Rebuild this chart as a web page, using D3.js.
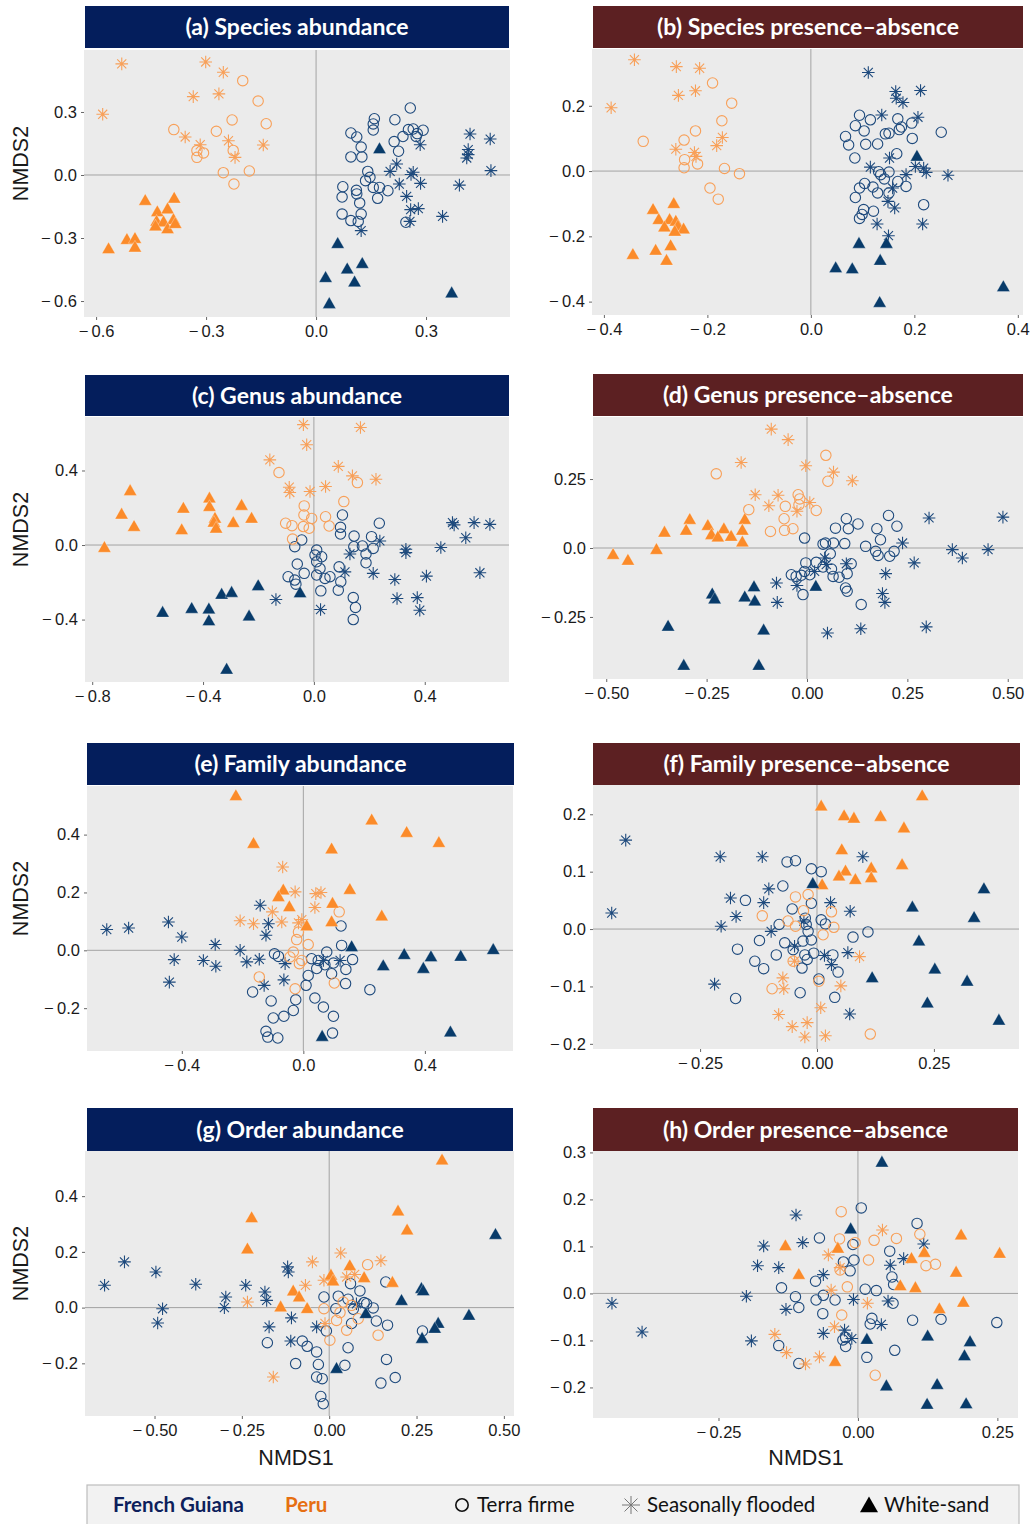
<!DOCTYPE html>
<html><head><meta charset="utf-8">
<script src="https://cdn.jsdelivr.net/npm/d3@7"></script>
<style>body{margin:0;background:#fff}</style>
</head><body>
<svg id="c" width="1030" height="1524"></svg>
<script>
// ---------------- DATA (NMDS1, NMDS2) ----------------
// Panel (a) Species abundance
const a_PE_SF=[[-0.530,0.529],[-0.301,0.538],[-0.253,0.489],[-0.335,0.373],[-0.265,0.386],[-0.582,0.289],[-0.357,0.181],[-0.316,0.144],[-0.239,0.163],[-0.221,0.084],[-0.144,0.143]];
const a_PE_TF=[[-0.200,0.449],[-0.158,0.352],[-0.229,0.262],[-0.136,0.244],[-0.388,0.216],[-0.272,0.208],[-0.226,0.117],[-0.325,0.116],[-0.307,0.105],[-0.325,0.084],[-0.253,0.011],[-0.182,0.019],[-0.224,-0.043]];
const a_PE_WS=[[-0.466,-0.122],[-0.387,-0.111],[-0.433,-0.176],[-0.405,-0.162],[-0.435,-0.221],[-0.416,-0.224],[-0.389,-0.213],[-0.438,-0.244],[-0.405,-0.257],[-0.384,-0.232],[-0.516,-0.308],[-0.494,-0.303],[-0.494,-0.344],[-0.566,-0.352]];
const a_FG_TF=[[0.257,0.319],[0.159,0.268],[0.215,0.263],[0.156,0.243],[0.156,0.214],[0.095,0.200],[0.111,0.181],[0.252,0.216],[0.265,0.219],[0.292,0.213],[0.213,0.159],[0.237,0.183],[0.273,0.183],[0.276,0.197],[0.225,0.113],[0.123,0.133],[0.095,0.086],[0.125,0.086],[0.141,0.017],[0.147,-0.011],[0.135,-0.027],[0.073,-0.056],[0.156,-0.059],[0.173,-0.059],[0.196,-0.075],[0.071,-0.105],[0.110,-0.073],[0.111,-0.090],[0.168,-0.111],[0.119,-0.133],[0.071,-0.186],[0.123,-0.186],[0.095,-0.217],[0.115,-0.221],[0.245,-0.225]];
const a_FG_SF=[[0.420,0.195],[0.475,0.171],[0.284,0.144],[0.415,0.121],[0.415,0.097],[0.411,0.081],[0.220,0.052],[0.202,0.017],[0.265,0.013],[0.259,0.002],[0.477,0.021],[0.227,-0.043],[0.285,-0.040],[0.391,-0.048],[0.247,-0.102],[0.258,-0.165],[0.279,-0.160],[0.345,-0.197],[0.256,-0.221],[0.123,-0.265]];
const a_FG_WS=[[0.173,0.124],[0.059,-0.327],[0.026,-0.489],[0.085,-0.448],[0.126,-0.422],[0.105,-0.510],[0.036,-0.613],[0.370,-0.562]];

// Panel (b) Species presence-absence
const b_PE_SF=[[-0.341,0.341],[-0.260,0.320],[-0.215,0.315],[-0.386,0.194],[-0.256,0.232],[-0.223,0.246],[-0.261,0.067],[-0.225,0.057],[-0.222,0.045],[-0.182,0.078],[-0.171,0.103]];
const b_PE_TF=[[-0.190,0.270],[-0.153,0.208],[-0.172,0.154],[-0.324,0.091],[-0.223,0.123],[-0.245,0.095],[-0.244,0.035],[-0.245,0.010],[-0.219,0.022],[-0.167,0.008],[-0.138,-0.008],[-0.195,-0.052],[-0.179,-0.086]];
const b_PE_WS=[[-0.305,-0.118],[-0.265,-0.100],[-0.294,-0.149],[-0.273,-0.149],[-0.261,-0.154],[-0.257,-0.169],[-0.283,-0.172],[-0.246,-0.178],[-0.263,-0.185],[-0.300,-0.243],[-0.271,-0.229],[-0.344,-0.256],[-0.279,-0.274]];
const b_FG_TF=[[0.094,0.171],[0.115,0.157],[0.086,0.139],[0.103,0.123],[0.067,0.106],[0.073,0.080],[0.106,0.082],[0.129,0.083],[0.144,0.114],[0.151,0.116],[0.168,0.160],[0.175,0.135],[0.171,0.127],[0.195,0.147],[0.196,0.100],[0.252,0.119],[0.166,0.053],[0.085,0.040],[0.131,-0.002],[0.135,-0.011],[0.151,-0.003],[0.142,-0.024],[0.168,-0.032],[0.184,-0.047],[0.104,-0.038],[0.094,-0.052],[0.120,-0.049],[0.129,-0.067],[0.151,-0.067],[0.086,-0.081],[0.102,-0.118],[0.121,-0.123],[0.099,-0.133],[0.094,-0.145],[0.218,-0.103]];
const b_FG_SF=[[0.111,0.302],[0.164,0.244],[0.212,0.247],[0.165,0.223],[0.178,0.210],[0.137,0.172],[0.207,0.165],[0.152,0.040],[0.115,0.012],[0.202,0.014],[0.218,0.009],[0.223,-0.004],[0.184,-0.011],[0.265,-0.013],[0.158,-0.052],[0.149,-0.093],[0.162,-0.113],[0.128,-0.162],[0.150,-0.198],[0.216,-0.162]];
const b_FG_WS=[[0.205,0.045],[0.093,-0.222],[0.146,-0.222],[0.048,-0.297],[0.080,-0.300],[0.134,-0.274],[0.133,-0.403],[0.372,-0.355]];

// Panel (c) Genus abundance
const c_PE_SF=[[-0.038,0.646],[0.168,0.631],[-0.026,0.538],[-0.159,0.457],[0.088,0.422],[0.139,0.371],[0.224,0.353],[-0.089,0.310],[-0.087,0.282],[-0.014,0.287],[0.042,0.314]];
const c_PE_TF=[[-0.126,0.389],[0.157,0.335],[0.108,0.233],[-0.035,0.210],[-0.036,0.161],[-0.008,0.143],[0.042,0.152],[0.055,0.102],[-0.102,0.117],[-0.079,0.104],[-0.038,0.099],[-0.017,0.090],[-0.077,0.032]];
const c_PE_WS=[[-0.663,0.291],[-0.694,0.165],[-0.649,0.099],[-0.471,0.197],[-0.377,0.251],[-0.377,0.206],[-0.357,0.143],[-0.361,0.122],[-0.353,0.090],[-0.291,0.120],[-0.261,0.212],[-0.225,0.143],[-0.477,0.081],[-0.756,-0.014]];
const c_FG_TF=[[0.103,0.161],[0.236,0.117],[0.096,0.095],[0.096,0.059],[0.145,0.048],[0.208,0.045],[0.175,-0.005],[0.144,-0.009],[0.214,-0.018],[0.188,-0.048],[0.188,-0.095],[-0.044,0.027],[-0.069,-0.009],[0.010,-0.027],[0.028,-0.063],[0.004,-0.054],[0.010,-0.090],[0.022,-0.126],[-0.060,-0.102],[-0.035,-0.152],[-0.093,-0.170],[-0.069,-0.188],[-0.065,-0.210],[0.010,-0.161],[0.040,-0.179],[0.058,-0.170],[0.091,-0.117],[0.097,-0.197],[0.088,-0.242],[0.025,-0.246],[0.142,-0.282],[0.150,-0.335],[0.142,-0.400]];
const c_FG_SF=[[0.500,0.120],[0.506,0.108],[0.578,0.120],[0.635,0.111],[0.548,0.039],[0.238,0.022],[0.332,-0.023],[0.332,-0.041],[0.458,-0.013],[0.130,-0.048],[0.112,-0.144],[0.214,-0.152],[0.292,-0.185],[0.406,-0.167],[0.599,-0.149],[-0.137,-0.292],[0.300,-0.287],[0.373,-0.282],[0.382,-0.350],[0.024,-0.346]];
const c_FG_WS=[[-0.201,-0.219],[-0.333,-0.265],[-0.297,-0.255],[-0.050,-0.257],[-0.546,-0.362],[-0.441,-0.341],[-0.379,-0.344],[-0.379,-0.407],[-0.234,-0.382],[-0.315,-0.667]];

// Panel (d) Genus presence-absence
const d_PE_SF=[[-0.089,0.431],[-0.047,0.393],[-0.164,0.310],[-0.003,0.298],[0.066,0.275],[0.113,0.244],[-0.129,0.193],[-0.072,0.191],[-0.095,0.153],[-0.025,0.133],[0.007,0.165]];
const d_PE_TF=[[0.047,0.336],[-0.226,0.269],[0.052,0.242],[-0.022,0.193],[-0.018,0.178],[-0.020,0.157],[-0.145,0.139],[-0.054,0.151],[0.023,0.136],[-0.057,0.106],[-0.035,0.070],[-0.056,0.064],[-0.091,0.060]];
const d_PE_WS=[[-0.292,0.103],[-0.155,0.103],[-0.247,0.081],[-0.207,0.069],[-0.189,0.042],[-0.161,0.064],[-0.301,0.064],[-0.355,0.057],[-0.238,0.048],[-0.222,0.039],[-0.161,0.021],[-0.375,-0.006],[-0.483,-0.024],[-0.446,-0.045]];
const d_FG_TF=[[0.098,0.106],[0.203,0.118],[0.127,0.087],[0.071,0.072],[0.103,0.070],[0.224,0.079],[0.174,0.070],[0.183,0.030],[-0.006,0.036],[0.040,0.014],[0.046,0.018],[0.066,0.018],[0.094,0.016],[0.146,0.006],[0.171,-0.012],[0.177,-0.027],[0.206,-0.030],[0.217,-0.012],[0.058,-0.021],[-0.003,-0.054],[0.023,-0.052],[0.040,-0.069],[-0.006,-0.085],[0.007,-0.097],[-0.039,-0.097],[-0.027,-0.103],[-0.014,-0.099],[0.061,-0.076],[0.065,-0.103],[0.080,-0.106],[0.100,-0.093],[0.110,-0.057],[0.096,-0.145],[0.100,-0.157],[-0.010,-0.169],[0.135,-0.205]];
const d_FG_SF=[[0.304,0.109],[0.488,0.112],[0.238,0.018],[0.362,-0.006],[0.387,-0.036],[0.451,-0.006],[0.267,-0.054],[0.196,-0.093],[0.188,-0.165],[0.194,-0.197],[-0.076,-0.127],[-0.074,-0.197],[-0.025,-0.136],[0.044,-0.036],[0.048,-0.060],[0.019,-0.085],[0.098,-0.057],[0.051,-0.308],[0.134,-0.293],[0.297,-0.286]];
const d_FG_WS=[[-0.236,-0.167],[-0.230,-0.185],[-0.132,-0.141],[-0.155,-0.178],[-0.130,-0.193],[0.022,-0.139],[-0.346,-0.284],[-0.108,-0.298],[-0.307,-0.426],[-0.120,-0.426]];

// Panel (e) Family abundance
const e_PE_WS=[[-0.222,0.534],[0.225,0.450],[0.340,0.407],[0.446,0.372],[-0.164,0.369],[0.093,0.350],[0.153,0.210],[-0.066,0.208],[-0.082,0.185],[-0.046,0.150],[0.096,0.162],[0.258,0.118],[0.011,0.084],[0.093,0.098]];
const e_PE_SF=[[-0.068,0.288],[-0.027,0.202],[0.041,0.196],[0.058,0.200],[0.038,0.148],[-0.102,0.133],[-0.208,0.102],[-0.164,0.092],[-0.071,0.098],[-0.016,0.095],[-0.005,0.106]];
const e_PE_TF=[[0.118,0.133],[-0.016,0.063],[-0.022,0.037],[0.016,0.020],[-0.033,-0.006],[-0.005,-0.035],[-0.044,-0.023],[-0.013,-0.046],[-0.145,-0.092],[0.102,-0.113],[-0.027,-0.133]];
const e_FG_SF=[[-0.647,0.072],[-0.575,0.077],[-0.444,0.098],[-0.400,0.046],[-0.290,0.020],[-0.425,-0.032],[-0.329,-0.035],[-0.288,-0.055],[-0.441,-0.110],[-0.208,0.000],[-0.186,-0.040],[-0.145,-0.031],[-0.142,0.156],[-0.115,0.092],[-0.123,0.052],[-0.060,-0.046],[-0.064,-0.102],[-0.129,-0.121],[0.066,-0.035],[0.121,-0.035]];
const e_FG_TF=[[0.124,0.084],[0.126,0.017],[0.077,-0.006],[0.162,-0.032],[-0.095,-0.012],[-0.082,-0.021],[0.027,-0.029],[0.049,-0.035],[0.071,-0.050],[0.099,-0.044],[0.093,-0.081],[0.140,-0.066],[0.139,-0.115],[0.044,-0.063],[0.016,-0.087],[0.009,-0.121],[-0.167,-0.144],[-0.106,-0.175],[-0.025,-0.171],[0.038,-0.165],[0.066,-0.196],[0.099,-0.228],[-0.099,-0.234],[-0.064,-0.228],[-0.033,-0.208],[-0.123,-0.280],[-0.117,-0.300],[-0.084,-0.303],[0.096,-0.286],[0.219,-0.136]];
const e_FG_WS=[[0.159,0.012],[0.263,-0.054],[0.332,-0.015],[0.420,-0.023],[0.395,-0.063],[0.518,-0.021],[0.625,0.002],[0.062,-0.298],[0.484,-0.283]];

// Panel (f) Family presence-absence
const f_PE_WS=[[0.225,0.232],[0.009,0.214],[0.058,0.197],[0.079,0.193],[0.136,0.196],[0.186,0.176],[0.053,0.138],[0.182,0.112],[0.061,0.101],[0.116,0.106],[0.047,0.092],[0.082,0.086],[0.116,0.089],[0.011,0.077]];
const f_FG_WS=[[-0.009,0.079],[0.357,0.070],[0.204,0.038],[0.336,0.020],[0.218,-0.021],[0.252,-0.070],[0.118,-0.085],[0.321,-0.091],[0.236,-0.129],[0.389,-0.159]];
const f_PE_TF=[[-0.046,0.056],[-0.019,0.060],[-0.117,0.023],[-0.029,0.032],[0.031,0.030],[-0.062,0.014],[-0.046,0.005],[0.013,-0.010],[0.036,0.003],[-0.051,-0.056],[0.004,-0.091],[-0.096,-0.104],[0.114,-0.183]];
const f_PE_SF=[[0.091,-0.048],[-0.048,-0.056],[-0.073,-0.085],[-0.071,-0.104],[0.051,-0.099],[-0.082,-0.149],[-0.053,-0.170],[-0.021,-0.163],[-0.026,-0.188],[0.018,-0.186],[0.008,-0.137]];
const f_FG_SF=[[-0.409,0.155],[-0.439,0.028],[-0.207,0.126],[-0.117,0.126],[0.098,0.126],[-0.185,0.054],[-0.114,0.046],[-0.103,0.070],[-0.173,0.022],[-0.205,0.005],[-0.098,-0.004],[0.029,0.046],[0.071,0.031],[-0.028,0.014],[-0.048,-0.030],[0.016,-0.046],[0.031,-0.062],[0.066,-0.041],[-0.219,-0.096],[0.070,-0.148]];
const f_FG_TF=[[-0.064,0.117],[-0.046,0.119],[-0.012,0.105],[0.009,0.100],[-0.073,0.075],[-0.153,0.050],[-0.053,0.035],[-0.012,0.045],[-0.025,0.019],[-0.081,0.008],[-0.023,0.008],[0.009,0.016],[0.018,0.009],[-0.019,-0.004],[-0.012,-0.019],[-0.030,-0.021],[-0.123,-0.020],[0.077,-0.014],[0.109,-0.005],[-0.170,-0.035],[-0.069,-0.024],[-0.087,-0.045],[-0.051,-0.036],[-0.026,-0.045],[-0.021,-0.053],[-0.007,-0.042],[0.034,-0.045],[0.045,-0.075],[-0.133,-0.056],[-0.114,-0.069],[-0.032,-0.068],[0.004,-0.087],[-0.036,-0.111],[0.038,-0.119],[-0.174,-0.121]];

// Panel (g) Order abundance
const g_PE_WS=[[0.323,0.529],[-0.222,0.322],[0.197,0.346],[0.223,0.278],[-0.234,0.210],[0.059,0.150],[0.005,0.116],[0.100,0.107],[0.181,0.090],[-0.103,0.059],[-0.086,0.038],[-0.139,0.002],[-0.063,-0.004],[0.011,0.095]];
const g_PE_SF=[[0.033,0.196],[-0.048,0.164],[0.148,0.168],[-0.068,0.080],[-0.015,0.098],[0.050,0.110],[0.073,0.119],[-0.234,0.020],[-0.012,-0.057],[-0.160,-0.249]];
const g_PE_TF=[[0.110,0.154],[0.040,0.020],[0.064,0.008],[-0.015,-0.004],[0.083,-0.040],[0.021,-0.046],[0.050,-0.081],[0.140,-0.099],[0.002,-0.117],[0.031,-0.018]];
const g_FG_SF=[[-0.586,0.164],[-0.643,0.080],[-0.496,0.128],[-0.382,0.084],[-0.477,-0.004],[-0.491,-0.055],[-0.296,0.038],[-0.300,0.000],[-0.239,0.080],[-0.184,0.056],[-0.179,0.026],[-0.119,0.146],[-0.117,0.128],[-0.172,-0.069],[-0.108,-0.037],[-0.110,-0.120],[-0.036,-0.069],[0.078,0.014]];
const g_FG_TF=[[0.061,0.086],[0.088,0.060],[-0.015,0.038],[0.026,0.041],[0.054,0.030],[0.100,0.018],[0.126,-0.001],[0.069,-0.006],[0.019,-0.004],[0.167,-0.063],[0.135,-0.048],[0.064,-0.057],[-0.008,-0.084],[-0.177,-0.126],[-0.077,-0.120],[-0.063,-0.139],[-0.036,-0.159],[-0.096,-0.201],[-0.031,-0.204],[-0.036,-0.249],[-0.020,-0.255],[-0.024,-0.319],[-0.017,-0.345],[0.045,-0.207],[0.054,-0.144],[0.164,-0.186],[0.148,-0.271],[0.189,-0.251],[0.162,0.092],[0.267,-0.084],[0.107,0.014]];
const g_FG_WS=[[0.476,0.262],[0.264,0.068],[0.269,0.060],[0.207,0.025],[0.105,-0.022],[0.400,-0.028],[0.312,-0.057],[0.302,-0.075],[0.266,-0.111],[0.021,-0.219]];

// Panel (h) Order presence-absence
const h_FG_WS=[[0.043,0.279],[-0.013,0.137],[0.016,-0.098],[0.125,-0.091],[0.201,-0.103],[0.191,-0.133],[0.051,-0.197],[0.142,-0.194],[0.124,-0.236],[0.194,-0.235]];
const h_PE_WS=[[-0.130,0.101],[-0.036,0.096],[-0.106,0.040],[0.185,0.124],[0.254,0.085],[0.096,0.074],[0.119,0.087],[0.176,0.045],[0.076,0.016],[0.103,0.012],[0.146,-0.033],[0.189,-0.019],[-0.041,-0.145]];
const h_PE_TF=[[-0.030,0.174],[-0.033,0.116],[-0.005,0.108],[0.029,0.113],[0.069,0.117],[0.111,0.126],[0.139,0.062],[0.122,0.059],[0.019,0.071],[-0.032,0.050],[-0.019,0.014],[-0.029,-0.046],[0.031,-0.174]];
const h_PE_SF=[[0.044,0.135],[-0.053,0.082],[-0.032,0.055],[-0.048,0.007],[0.017,-0.021],[-0.042,-0.071],[-0.149,-0.087],[-0.128,-0.126],[-0.094,-0.150],[-0.069,-0.135]];
const h_FG_TF=[[0.006,0.182],[0.106,0.149],[-0.069,0.118],[-0.009,0.104],[-0.007,0.071],[0.057,0.090],[-0.026,0.067],[-0.014,0.048],[0.061,0.035],[0.064,0.019],[-0.076,0.026],[-0.137,0.012],[-0.112,-0.007],[-0.106,-0.030],[-0.075,-0.014],[-0.063,-0.043],[-0.062,-0.004],[-0.041,-0.014],[0.013,0.009],[0.033,0.006],[0.063,-0.021],[0.025,-0.053],[0.022,-0.065],[0.098,-0.057],[0.149,-0.055],[0.249,-0.062],[-0.022,-0.094],[-0.022,-0.113],[0.016,-0.136],[0.066,-0.121],[-0.142,-0.111],[-0.106,-0.149],[-0.027,-0.099]];
const h_FG_SF=[[-0.441,-0.021],[-0.387,-0.082],[-0.200,-0.006],[-0.191,-0.101],[-0.169,0.101],[-0.099,0.108],[-0.111,0.167],[-0.180,0.059],[-0.142,0.055],[-0.129,-0.034],[-0.062,0.040],[-0.062,-0.085],[-0.024,-0.078],[-0.008,-0.013],[0.042,-0.066],[0.058,0.060],[0.054,-0.016],[0.082,0.074],[0.118,0.105],[-0.011,-0.096]];

// Titles and ticks
const M="\u2212\u2009";
const titles=["(a) Species abundance","(b) Species presence\u2013absence","(c) Genus abundance","(d) Genus presence\u2013absence","(e) Family abundance","(f) Family presence\u2013absence","(g) Order abundance","(h) Order presence\u2013absence"];
const a_xt=[-0.6,-0.3,0,0.3], a_xl=[M+"0.6",M+"0.3","0.0","0.3"], a_yt=[0.3,0,-0.3,-0.6], a_yl=["0.3","0.0",M+"0.3",M+"0.6"];
const b_xt=[-0.4,-0.2,0,0.2,0.4], b_xl=[M+"0.4",M+"0.2","0.0","0.2","0.4"], b_yt=[0.2,0,-0.2,-0.4], b_yl=["0.2","0.0",M+"0.2",M+"0.4"];
const c_xt=[-0.8,-0.4,0,0.4], c_xl=[M+"0.8",M+"0.4","0.0","0.4"], c_yt=[0.4,0,-0.4], c_yl=["0.4","0.0",M+"0.4"];
const d_xt=[-0.5,-0.25,0,0.25,0.5], d_xl=[M+"0.50",M+"0.25","0.00","0.25","0.50"], d_yt=[0.25,0,-0.25], d_yl=["0.25","0.0",M+"0.25"];
const e_xt=[-0.4,0,0.4], e_xl=[M+"0.4","0.0","0.4"], e_yt=[0.4,0.2,0,-0.2], e_yl=["0.4","0.2","0.0",M+"0.2"];
const f_xt=[-0.25,0,0.25], f_xl=[M+"0.25","0.00","0.25"], f_yt=[0.2,0.1,0,-0.1,-0.2], f_yl=["0.2","0.1","0.0",M+"0.1",M+"0.2"];
const g_xt=[-0.5,-0.25,0,0.25,0.5], g_xl=[M+"0.50",M+"0.25","0.00","0.25","0.50"], g_yt=[0.4,0.2,0,-0.2], g_yl=["0.4","0.2","0.0",M+"0.2"];
const h_xt=[-0.25,0,0.25], h_xl=[M+"0.25","0.00","0.25"], h_yt=[0.3,0.2,0.1,0,-0.1,-0.2], h_yl=["0.3","0.2","0.1","0.0",M+"0.1",M+"0.2"];
const legendRegions=["French Guiana","Peru"];
const legendHabitats=["Terra firme","Seasonally flooded","White-sand"];

// ---------------- LAYOUT / STYLE ----------------
const NAVY="#041e5c", MAROON="#5c2022";
const COL={FG:{line:"#1e4a7d",fill:"#083b6a"},PE:{line:"#f8a059",fill:"#fb8b2a"}};
const panels=[
 {t:0,hc:NAVY,  hx:[85,509],hy:[6,48],   px:[84,510],py:[50,317],  xd:[-0.633,0.529],yd:[-0.676,0.595],xt:a_xt,xl:a_xl,yt:a_yt,yl:a_yl,
  data:{PE_TF:a_PE_TF,PE_SF:a_PE_SF,PE_WS:a_PE_WS,FG_TF:a_FG_TF,FG_SF:a_FG_SF,FG_WS:a_FG_WS},ylab:true},
 {t:1,hc:MAROON,hx:[593,1023],hy:[6,48], px:[592,1023],py:[49,315], xd:[-0.423,0.410],yd:[-0.441,0.374],xt:b_xt,xl:b_xl,yt:b_yt,yl:b_yl,
  data:{PE_TF:b_PE_TF,PE_SF:b_PE_SF,PE_WS:b_PE_WS,FG_TF:b_FG_TF,FG_SF:b_FG_SF,FG_WS:b_FG_WS}},
 {t:2,hc:NAVY,  hx:[85,509],hy:[375,416],px:[85,509],py:[417,682], xd:[-0.826,0.704],yd:[-0.735,0.687],xt:c_xt,xl:c_xl,yt:c_yt,yl:c_yl,
  data:{PE_TF:c_PE_TF,PE_SF:c_PE_SF,PE_WS:c_PE_WS,FG_TF:c_FG_TF,FG_SF:c_FG_SF,FG_WS:c_FG_WS},ylab:true},
 {t:3,hc:MAROON,hx:[593,1023],hy:[374,416],px:[593,1023],py:[417,679],xd:[-0.533,0.538],yd:[-0.475,0.475],xt:d_xt,xl:d_xl,yt:d_yt,yl:d_yl,
  data:{PE_TF:d_PE_TF,PE_SF:d_PE_SF,PE_WS:d_PE_WS,FG_TF:d_FG_TF,FG_SF:d_FG_SF,FG_WS:d_FG_WS}},
 {t:4,hc:NAVY,  hx:[87,514],hy:[743,785],px:[87,513],py:[786,1051],xd:[-0.712,0.690],yd:[-0.348,0.568],xt:e_xt,xl:e_xl,yt:e_yt,yl:e_yl,
  data:{PE_TF:e_PE_TF,PE_SF:e_PE_SF,PE_WS:e_PE_WS,FG_TF:e_FG_TF,FG_SF:e_FG_SF,FG_WS:e_FG_WS},ylab:true},
 {t:5,hc:MAROON,hx:[593,1020],hy:[743,785],px:[593,1019],py:[785,1049],xd:[-0.479,0.432],yd:[-0.209,0.251],xt:f_xt,xl:f_xl,yt:f_yt,yl:f_yl,
  data:{PE_TF:f_PE_TF,PE_SF:f_PE_SF,PE_WS:f_PE_WS,FG_TF:f_FG_TF,FG_SF:f_FG_SF,FG_WS:f_FG_WS}},
 {t:6,hc:NAVY,  hx:[87,513],hy:[1108,1151],px:[85,514],py:[1151,1416],xd:[-0.699,0.529],yd:[-0.389,0.562],xt:g_xt,xl:g_xl,yt:g_yt,yl:g_yl,
  data:{PE_TF:g_PE_TF,PE_SF:g_PE_SF,PE_WS:g_PE_WS,FG_TF:g_FG_TF,FG_SF:g_FG_SF,FG_WS:g_FG_WS},ylab:true,xlab:296},
 {t:7,hc:MAROON,hx:[593,1018],hy:[1108,1151],px:[593,1018],py:[1151,1418],xd:[-0.475,0.287],yd:[-0.265,0.303],xt:h_xt,xl:h_xl,yt:h_yt,yl:h_yl,
  data:{PE_TF:h_PE_TF,PE_SF:h_PE_SF,PE_WS:h_PE_WS,FG_TF:h_FG_TF,FG_SF:h_FG_SF,FG_WS:h_FG_WS},xlab:806}
];

const svg=d3.select("#c");
function astPath(s){const d=s*0.72;return `M${-s},0L${s},0M0,${-s}L0,${s}M${-d},${-d}L${d},${d}M${-d},${d}L${d},${-d}`;}
function triPath(s){return `M0,${-s*1.05}L${s},${s*0.7}L${-s},${s*0.7}Z`;}
const AF="'Liberation Sans', Arial, sans-serif";

function drawMarker(g,region,hab,cx,cy){
  const c=COL[region];
  if(hab==="TF"){
    g.append("circle").attr("cx",cx).attr("cy",cy).attr("r",5.2).attr("fill","none").attr("stroke",c.line).attr("stroke-width",1.1);
  } else if(hab==="SF"){
    g.append("path").attr("transform",`translate(${cx},${cy})`).attr("d",astPath(6.3)).attr("fill","none").attr("stroke",c.line).attr("stroke-width",1.1);
  } else {
    g.append("path").attr("transform",`translate(${cx},${cy})`).attr("d",triPath(6.6)).attr("fill",c.fill).attr("stroke","#ffffff").attr("stroke-opacity",0.5).attr("stroke-width",0.6);
  }
}

panels.forEach(p=>{
  const x=d3.scaleLinear().domain(p.xd).range(p.px);
  const y=d3.scaleLinear().domain(p.yd).range([p.py[1],p.py[0]]);
  const g=svg.append("g");
  g.append("rect").attr("x",p.px[0]).attr("y",p.py[0]).attr("width",p.px[1]-p.px[0]).attr("height",p.py[1]-p.py[0]).attr("fill","#ebebeb");
  g.append("line").attr("x1",x(0)).attr("x2",x(0)).attr("y1",p.py[0]).attr("y2",p.py[1]).attr("stroke","#a3a3a3").attr("stroke-width",1);
  g.append("line").attr("x1",p.px[0]).attr("x2",p.px[1]).attr("y1",y(0)).attr("y2",y(0)).attr("stroke","#a3a3a3").attr("stroke-width",1);
  // header
  g.append("rect").attr("x",p.hx[0]).attr("y",p.hy[0]).attr("width",p.hx[1]-p.hx[0]).attr("height",p.hy[1]-p.hy[0]).attr("fill",p.hc);
  g.append("text").attr("x",(p.hx[0]+p.hx[1])/2).attr("y",(p.hy[0]+p.hy[1])/2+8).attr("text-anchor","middle")
    .attr("fill","#fff").attr("font-family","Lato, 'Open Sans', sans-serif").attr("font-weight","bold").attr("font-size",23).text(titles[p.t]);
  // axes
  const xa=d3.axisBottom(x).tickValues(p.xt).tickFormat((d,i)=>p.xl[i]).tickSize(3).tickPadding(5);
  const ya=d3.axisLeft(y).tickValues(p.yt).tickFormat((d,i)=>p.yl[i]).tickSize(3).tickPadding(4);
  const gx=g.append("g").attr("transform",`translate(0,${p.py[1]})`).call(xa);
  const gy=g.append("g").attr("transform",`translate(${p.px[0]},0)`).call(ya);
  [gx,gy].forEach(a=>{a.select(".domain").remove();a.selectAll(".tick line").attr("stroke","#666");
    a.selectAll("text").attr("font-family",AF).attr("font-size",16.5).attr("fill","#1a1a1a");});
  // points
  const pts=g.append("g");
  [["FG","TF"],["FG","SF"],["PE","TF"],["PE","SF"],["PE","WS"],["FG","WS"]].forEach(([r,h])=>{
    p.data[r+"_"+h].forEach(d=>drawMarker(pts,r,h,x(d[0]),y(d[1])));
  });
  if(p.ylab){
    g.append("text").attr("transform",`translate(28,${(p.py[0]+p.py[1])/2-20}) rotate(-90)`).attr("text-anchor","middle")
      .attr("font-family",AF).attr("font-size",21.5).attr("fill","#1a1a1a").text("NMDS2");
  }
  if(p.xlab){
    g.append("text").attr("x",p.xlab).attr("y",1465).attr("text-anchor","middle")
      .attr("font-family",AF).attr("font-size",21.5).attr("fill","#1a1a1a").text("NMDS1");
  }
});

// legend
const lg=svg.append("g");
lg.append("rect").attr("x",87).attr("y",1485).attr("width",932).attr("height",45).attr("fill","#f2f2f2").attr("stroke","#bdbdbd").attr("stroke-width",1.2);
const LF="Lato, 'Open Sans', sans-serif";
lg.append("text").attr("x",113).attr("y",1512).attr("font-family",LF).attr("font-weight","bold").attr("font-size",20.5).attr("fill","#0d1f5c").text(legendRegions[0]);
lg.append("text").attr("x",285).attr("y",1512).attr("font-family",LF).attr("font-weight","bold").attr("font-size",20.5).attr("fill","#e66f12").text(legendRegions[1]);
lg.append("circle").attr("cx",462).attr("cy",1505).attr("r",6.2).attr("fill","none").attr("stroke","#111").attr("stroke-width",1.6);
lg.append("text").attr("x",477).attr("y",1512).attr("font-family",LF).attr("font-size",20.5).attr("fill","#111").text(legendHabitats[0]);
lg.append("path").attr("transform","translate(631,1505)").attr("d",astPath(9)).attr("fill","none").attr("stroke","#777").attr("stroke-width",1);
lg.append("text").attr("x",647).attr("y",1512).attr("font-family",LF).attr("font-size",20.5).attr("fill","#111").text(legendHabitats[1]);
lg.append("path").attr("transform","translate(869,1506)").attr("d",triPath(9)).attr("fill","#000");
lg.append("text").attr("x",884).attr("y",1512).attr("font-family",LF).attr("font-size",20.5).attr("fill","#111").text(legendHabitats[2]);
</script>
</body></html>
